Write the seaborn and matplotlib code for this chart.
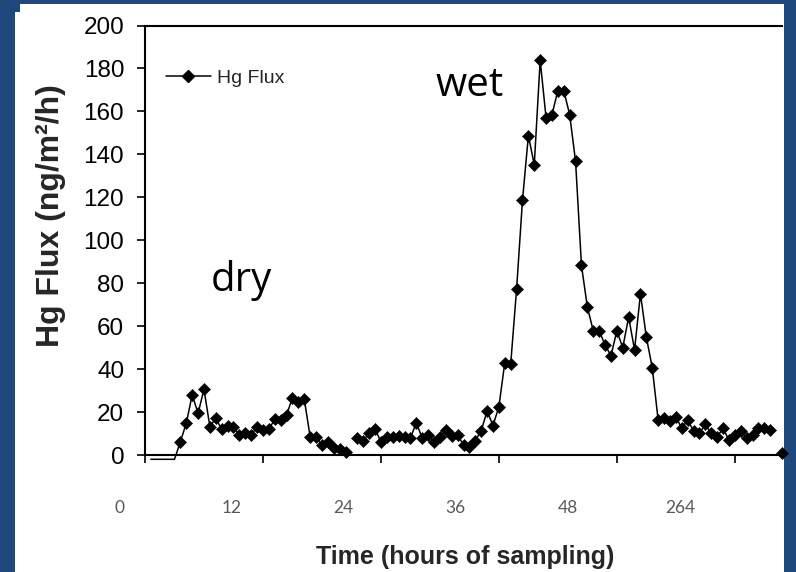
import numpy as np
import pandas as pd
import matplotlib
matplotlib.use("Agg")
import matplotlib.pyplot as plt
import matplotlib.transforms as mtransforms
from matplotlib.patches import Rectangle
from matplotlib.lines import Line2D
import seaborn as sns

# ---------------- data ----------------
# flat lead-in below the axis (categories 1-5), drawn without markers
lead_in_flux = [-2.0, -2.0, -2.0, -2.0, -2.0]
# measured Hg flux, one value per sampling step (None = gap)
hg_flux = [
    6.2, 14.8, 28.0, 19.4, 30.6, 13.2, 17.1, 12.0, 13.5, 12.9,
    9.3, 10.1, 9.3, 13.2, 11.7, 12.0, 16.6, 16.3, 18.6, 26.7,
    24.8, 26.0, 8.5, 8.5, 4.7, 5.9, 3.4, 2.6, 1.6, None,
    7.8, 6.7, 10.1, 12.0, 6.2, 8.2, 8.2, 8.9, 8.2, 7.8,
    15.1, 7.8, 9.3, 6.2, 8.5, 11.7, 8.9, 9.3, 4.7, 3.9,
    6.7, 11.3, 20.5, 13.7, 22.5, 43.0, 42.3, 77.2, 118.6, 148.7,
    135.2, 183.8, 157.0, 158.5, 169.7, 169.7, 158.5, 136.7, 88.3, 68.9,
    57.8, 57.8, 51.3, 46.2, 57.8, 50.0, 64.2, 49.0, 75.1, 54.9,
    40.7, 16.3, 17.1, 15.9, 17.9, 12.4, 16.3, 11.2, 10.1, 14.3,
    10.1, 8.5, 12.4, 7.0, 9.3, 11.3, 7.8, 9.3, 12.4, 12.4,
    11.7, None, 0.8,
]
hour_labels = ["0", "12", "24", "36", "48", "264"]
y_ticks = [0, 20, 40, 60, 80, 100, 120, 140, 160, 180, 200]
series_name = "Hg Flux"
annotations = {"wet": (49.3, 167.0), "dry": (11.2, 76.5)}

# ---------------- table ----------------
values = [None] + lead_in_flux + hg_flux
df = pd.DataFrame({"cat": np.arange(len(values)),
                   "flux": pd.array(values, dtype="Float64").astype(float)})
df["segment"] = df["flux"].isna().cumsum()
line_df = df.dropna(subset=["flux"])
mark_df = line_df[line_df["flux"] >= 0]

# ---------------- figure ----------------
W, H = 796, 572
NAVY = "#1F497D"
fig = plt.figure(figsize=(W / 100, H / 100), dpi=100, facecolor=NAVY)
fig.patches.append(Rectangle((15 / W, 0), (784 - 15) / W, (H - 12) / H,
                             transform=fig.transFigure, facecolor="white",
                             edgecolor="none", zorder=-5))
fig.patches.append(Rectangle((20 / W, 0), (784 - 20) / W, (H - 4) / H,
                             transform=fig.transFigure, facecolor="white",
                             edgecolor="none", zorder=-5))

sns.set_style("ticks")
plt.rcParams["font.family"] = ["Liberation Sans", "DejaVu Sans"]

left, right, top, zero = 145, 782, 25.5, 455
ax = fig.add_axes([left / W, (H - zero) / H, (right - left) / W, (zero - top) / H])
ax.set_facecolor("white")

sns.lineplot(data=line_df, x="cat", y="flux", units="segment", estimator=None,
             color="black", linewidth=1.1, ax=ax, legend=False, clip_on=False,
             sort=False)
sns.scatterplot(data=mark_df, x="cat", y="flux", marker="D", s=38,
                color="black", edgecolor="black", linewidth=0.4, ax=ax,
                legend=False, clip_on=False, zorder=3)

ax.set_xlim(0, 108)
ax.set_ylim(0, 200)
ax.set_yticks(y_ticks)
ax.set_xticks(np.arange(0, 101, 20))
ax.set_xticklabels([])
ax.tick_params(axis="y", direction="out", length=6, width=1.2, pad=9,
               labelsize=17.5, colors="black")
ax.tick_params(axis="x", direction="out", length=6, width=1.2, colors="black")
ax.xaxis.get_major_ticks()[4].tick1line.set_color("#7f7f7f")

for s in ("left", "bottom", "top"):
    ax.spines[s].set_visible(True)
    ax.spines[s].set_color("black")
    ax.spines[s].set_linewidth(1.5)
ax.spines["right"].set_visible(False)

# grey hour labels below the axis
trans = mtransforms.blended_transform_factory(ax.transData, ax.transAxes)
for k, lab in enumerate(hour_labels):
    ax.text(-4.4 + 19.02 * k, -0.123, lab, transform=trans, ha="center",
            va="center", color="#595959", fontsize=12.5, family="Lato",
            clip_on=False)

ax.set_xlabel("Time (hours of sampling)", fontsize=18, fontweight="bold",
              va="center")
ax.xaxis.set_label_coords(0.502, -0.238)
ax.set_ylabel("Hg Flux (ng/m\u00b2/h)", fontsize=23, fontweight="bold",
              va="center")
ax.yaxis.set_label_coords(-0.148, 0.558)

for word, (xc, yv) in annotations.items():
    ax.text(xc, yv, word, ha="left", va="baseline", fontsize=29,
            family="Open Sans", color="black")

handle = Line2D([], [], color="black", linewidth=1.1, marker="D",
                markersize=6)
ax.legend(handles=[handle], labels=[series_name], loc="center left",
          bbox_to_anchor=(0.033, 0.877), frameon=False, fontsize=14,
          handlelength=2.3, handletextpad=0.3, borderpad=0, borderaxespad=0)

fig.savefig("out.png", dpi=100, facecolor=fig.get_facecolor())
